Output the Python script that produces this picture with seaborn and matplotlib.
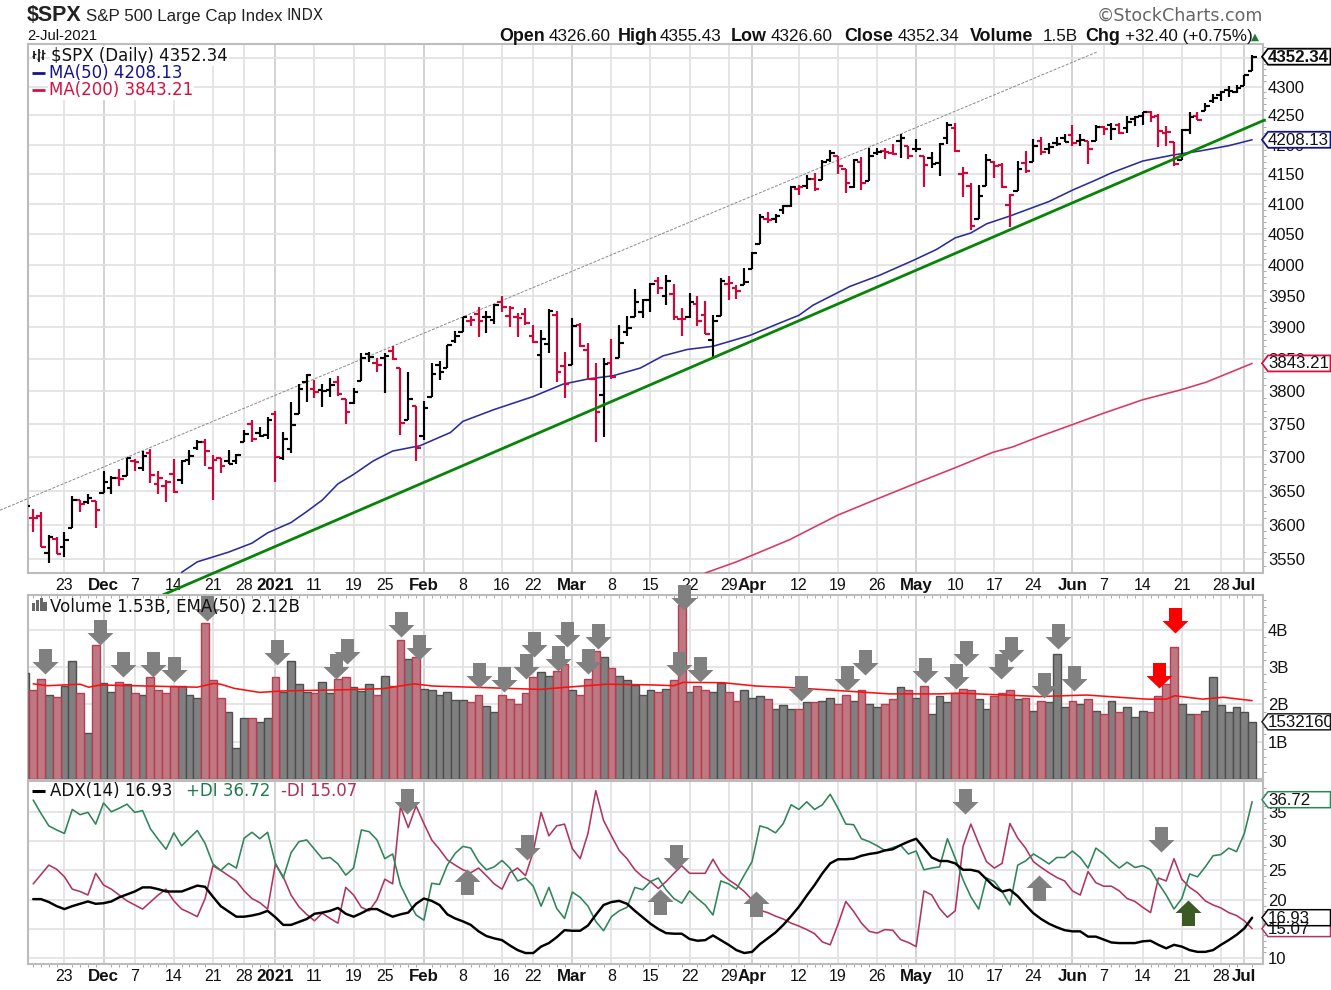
import numpy as np
import pandas as pd
import matplotlib
matplotlib.use("Agg")
import matplotlib.pyplot as plt
import seaborn as sns
from matplotlib.patches import Polygon, Rectangle
from matplotlib.path import Path
from matplotlib.lines import Line2D
from matplotlib.transforms import IdentityTransform
from matplotlib.ticker import NullFormatter

# ---------- data: first entry of the OHLC + volume lists is the clipped bar left of the frame ----------
opens = [3600.16,3610.31,3612.09,3559.41,3579.31,3566.82,3594.52,3635.50,3633.50,3634.18,3645.87,3653.78,3668.28,3670.94,3694.73,3683.05,3705.98,3659.13,3656.08,3675.27,3666.41,3696.25,3713.65,3722.39,3684.28,3698.08,3693.42,3694.03,3723.03,3750.01,3736.19,3733.27,3764.61,3698.02,3712.20,3764.71,3815.05,3803.14,3801.62,3802.23,3814.98,3788.73,3781.88,3816.22,3857.46,3844.24,3851.68,3862.96,3836.83,3755.75,3778.05,3731.17,3791.84,3840.27,3836.66,3878.30,3892.59,3910.49,3920.78,3916.40,3911.65,3939.61,3918.50,3915.86,3921.16,3885.55,3857.07,3873.71,3919.88,3839.66,3840.94,3903.64,3863.99,3818.53,3793.58,3844.39,3851.93,3891.99,3915.54,3924.52,3942.96,3973.59,3949.57,3953.50,3913.14,3916.48,3937.60,3919.93,3879.34,3917.12,3969.31,3963.34,3967.25,3992.78,4034.44,4075.57,4074.29,4089.95,4096.11,4124.71,4130.10,4141.58,4139.76,4174.14,4179.80,4159.18,4128.42,4170.46,4138.78,4185.03,4188.25,4185.14,4206.14,4198.10,4191.98,4179.80,4177.06,4169.14,4210.34,4228.29,4150.34,4130.55,4074.99,4129.58,4169.92,4165.94,4098.45,4121.97,4168.61,4170.16,4205.94,4191.59,4201.94,4210.77,4216.52,4206.82,4206.05,4206.05,4229.34,4233.81,4232.99,4228.56,4242.90,4248.31,4255.28,4248.87,4220.37,4204.78,4173.40,4224.61,4249.27,4256.97,4274.45,4284.90,4293.21,4290.65,4300.73,4326.60]
highs = [3628.51,3623.11,3619.09,3585.22,3581.23,3589.81,3642.31,3635.50,3644.31,3634.18,3678.45,3670.96,3682.73,3699.20,3697.41,3708.45,3712.39,3678.49,3665.91,3697.61,3695.29,3711.27,3725.12,3726.70,3702.90,3698.26,3711.24,3703.82,3740.51,3756.12,3744.63,3760.20,3769.99,3737.83,3783.04,3811.55,3826.69,3817.86,3810.78,3820.96,3823.60,3788.73,3804.53,3859.75,3861.45,3852.31,3859.23,3870.90,3836.83,3830.50,3778.05,3784.32,3843.09,3847.51,3872.42,3894.56,3915.77,3918.35,3931.50,3925.99,3937.23,3950.43,3933.61,3921.98,3930.41,3902.92,3895.98,3928.65,3925.02,3861.08,3914.50,3906.41,3874.47,3843.67,3851.69,3881.06,3903.76,3917.35,3960.27,3944.99,3970.08,3981.04,3983.87,3969.62,3930.12,3955.31,3949.13,3942.08,3919.54,3978.19,3981.83,3968.01,3994.41,4020.63,4083.42,4086.23,4083.13,4098.19,4129.48,4131.76,4148.00,4151.69,4173.49,4191.31,4180.81,4159.18,4175.02,4179.57,4194.17,4194.19,4193.35,4201.53,4218.78,4198.10,4209.39,4179.80,4187.72,4202.70,4238.04,4236.39,4162.04,4134.73,4131.58,4183.13,4171.92,4169.15,4116.93,4172.80,4188.72,4209.52,4213.42,4202.61,4213.38,4218.36,4234.12,4217.37,4206.05,4233.45,4232.34,4236.74,4237.09,4249.74,4248.38,4255.59,4257.16,4251.89,4232.29,4204.78,4226.24,4255.84,4256.60,4271.28,4286.12,4292.14,4300.52,4302.43,4320.66,4355.43]
lows = [3600.16,3588.68,3567.33,3543.84,3556.85,3552.77,3594.52,3617.76,3629.65,3594.39,3645.87,3644.84,3657.17,3670.94,3678.88,3678.83,3660.54,3645.18,3633.40,3645.84,3659.62,3688.57,3710.87,3685.84,3636.48,3676.16,3689.28,3689.32,3723.03,3723.31,3730.21,3726.88,3662.71,3695.07,3705.34,3764.71,3783.60,3789.02,3776.51,3791.50,3792.86,3749.62,3780.37,3816.22,3845.05,3830.41,3797.16,3847.78,3732.48,3755.75,3694.12,3725.62,3791.84,3816.68,3836.66,3874.93,3892.59,3902.64,3884.94,3890.39,3905.78,3923.85,3900.43,3885.03,3903.07,3874.71,3805.59,3859.60,3814.04,3789.54,3840.94,3868.57,3818.86,3723.34,3730.19,3819.25,3851.93,3885.73,3915.54,3915.21,3923.54,3953.44,3935.74,3910.86,3886.75,3914.16,3901.57,3889.07,3853.50,3917.12,3943.25,3944.35,3966.98,3992.78,4034.44,4068.14,4068.31,4082.54,4095.51,4114.82,4124.43,4120.87,4139.76,4170.75,4150.47,4118.38,4126.01,4123.69,4138.78,4182.36,4176.22,4181.78,4176.81,4174.85,4188.03,4128.59,4160.94,4147.33,4201.64,4188.13,4111.53,4056.88,4074.99,4129.58,4142.69,4125.99,4061.41,4121.97,4151.72,4170.16,4182.52,4184.11,4197.78,4203.57,4197.59,4198.27,4167.34,4206.05,4215.66,4208.41,4218.74,4220.34,4232.25,4234.07,4238.35,4195.99,4196.89,4164.40,4173.40,4217.27,4241.43,4256.97,4271.16,4274.67,4282.53,4287.96,4300.73,4326.60]
closes = [3626.91,3609.53,3567.79,3581.87,3557.54,3577.59,3635.41,3629.65,3638.35,3621.63,3662.45,3669.01,3666.72,3699.12,3691.96,3702.25,3672.82,3668.10,3663.46,3647.49,3694.62,3701.17,3722.48,3709.41,3694.92,3687.26,3690.01,3703.06,3735.36,3727.04,3732.04,3756.07,3700.65,3726.86,3748.14,3803.79,3824.68,3799.61,3801.19,3809.84,3795.54,3768.25,3798.91,3851.85,3853.07,3841.47,3855.36,3849.62,3750.77,3787.38,3714.24,3773.86,3826.31,3830.17,3871.74,3886.83,3915.59,3911.23,3909.88,3916.38,3934.83,3932.59,3931.33,3913.97,3906.71,3876.50,3881.37,3925.43,3829.34,3811.15,3901.82,3870.29,3819.72,3768.47,3841.94,3821.35,3875.44,3898.81,3939.34,3943.34,3968.94,3962.71,3974.12,3915.46,3913.10,3940.59,3910.52,3889.14,3909.52,3974.54,3971.09,3958.55,3972.89,4019.87,4077.91,4073.94,4079.95,4097.17,4128.80,4127.99,4141.59,4124.66,4170.42,4185.47,4163.26,4134.94,4173.42,4134.98,4180.17,4187.62,4186.72,4183.18,4211.47,4181.17,4192.66,4164.66,4167.59,4201.62,4232.60,4188.43,4152.10,4063.04,4112.50,4173.85,4163.29,4127.83,4115.68,4159.12,4155.86,4197.05,4188.13,4195.99,4200.88,4204.11,4202.04,4208.12,4192.85,4229.89,4226.52,4227.26,4219.55,4239.18,4247.44,4255.15,4246.59,4223.70,4221.86,4166.45,4224.79,4246.44,4241.84,4266.49,4280.70,4290.61,4291.80,4297.50,4319.94,4352.34]

volume_b = [2.85,2.39,2.68,2.25,2.21,2.48,3.15,2.30,1.24,3.59,2.58,2.34,2.59,2.54,2.30,2.25,2.72,2.39,2.30,2.50,2.50,2.25,2.16,4.19,2.64,2.18,1.80,0.82,1.63,1.63,1.54,1.63,2.72,2.34,3.15,2.55,2.34,2.30,2.59,2.30,2.68,2.72,2.47,2.37,2.55,2.25,2.76,2.50,3.73,3.22,3.26,2.42,2.39,2.25,2.34,2.12,2.12,2.05,2.25,1.96,1.79,2.25,2.14,2.01,2.30,2.72,2.88,2.76,2.90,3.08,2.39,2.25,2.68,3.43,3.26,2.97,2.76,2.64,2.52,2.25,2.39,2.34,2.42,2.64,4.65,2.34,2.48,2.39,2.34,2.58,2.34,2.09,2.39,2.18,2.23,2.14,1.88,1.97,1.88,1.88,2.05,2.05,2.09,2.18,2.01,2.25,2.09,2.39,2.00,1.92,2.01,2.14,2.47,2.39,2.16,2.50,1.74,2.23,2.05,2.30,2.42,2.39,2.14,1.88,2.23,2.30,2.39,2.14,2.18,1.83,2.09,2.05,3.35,1.92,2.09,2.00,2.14,1.83,1.74,2.09,1.80,1.92,1.65,1.83,1.80,2.23,2.55,3.55,2.00,1.74,1.74,1.83,2.72,1.97,1.80,1.92,1.80,1.53]

ma50_i = [19,21,23,25,28,30,33,35,37,39,41,43.5,46,49.5,53.4,55,59,64,67.8,71,74.2,77.7,80.6,83.7,87,91.7,95.6,98,99.8,104.5,108.3,112.6,115.6,118,120,122,125,130,133,136,138,142,145.8,149.3,153,156]
ma50_v = [3531,3546,3553,3560,3573,3588,3603,3619,3636,3660,3674,3694,3709,3717,3737,3754,3772,3792,3811,3819,3824,3836,3855,3865,3870,3887,3907,3919,3935,3965,3983,4007,4025,4044,4052,4067,4080,4104,4123,4140,4152,4172,4182,4189,4198,4208.13]
ma200_i = [86,90,96.8,103,108.3,113,118,122.8,125.3,128.8,133,136.9,142,146.8,150.1,156]
ma200_v = [3530,3546,3578,3614,3639,3661,3684,3707,3715,3731,3749,3766,3787,3802,3814,3843.21]

ema_i = [0,1.8,6,7.1,8.6,21,23.1,24,25.7,29,32,39.7,44.8,48.7,51.2,57.6,64.9,68.3,73.4,79.4,82,83.2,88.3,92.6,96,103,109.6,116,118.6,128.8,134.8,142.5,145,146.1,149.7,152.3,156]
ema_v = [2.55,2.50,2.54,2.46,2.52,2.46,2.56,2.54,2.43,2.32,2.36,2.39,2.42,2.55,2.49,2.45,2.40,2.46,2.54,2.52,2.50,2.59,2.58,2.49,2.46,2.37,2.28,2.28,2.30,2.21,2.25,2.14,2.14,2.23,2.14,2.19,2.10]

plus_di = [37.0,34.7,32.6,31.9,31.3,35.4,34.5,34.9,32.9,36.5,35.0,35.6,36.3,34.9,35.2,32.1,30.3,28.6,31.4,29.2,30.5,31.8,29.6,26.1,25.0,26.2,25.4,30.5,31.5,30.4,31.5,26.2,23.7,28.0,29.9,30.2,28.6,27.0,27.2,26.1,24.2,25.4,31.9,31.6,30.2,27.0,27.8,22.5,19.8,17.4,16.5,22.8,22.6,25.9,27.9,29.1,28.8,26.5,25.1,25.6,26.7,25.4,23.2,23.7,22.3,18.9,22.1,18.5,16.8,21.3,20.4,18.9,16.3,14.7,17.1,18.1,18.7,22.1,21.7,23.1,23.7,21.7,20.2,19.4,21.5,20.2,19.1,17.4,23.2,22.7,21.8,24.2,26.5,32.6,32.2,31.4,33.0,36.2,35.4,36.7,35.4,36.2,38.0,35.6,32.9,32.8,30.4,29.9,29.2,28.4,28.9,29.3,27.8,28.3,25.1,25.4,25.6,30.4,27.1,23.4,20.5,18.4,23.7,23.1,21.4,19.1,25.9,26.6,27.8,27.0,26.1,27.2,27.2,28.3,27.2,25.4,28.8,27.8,26.5,25.4,26.4,25.5,25.8,25.1,22.8,20.8,18.4,20.2,24.4,23.9,25.6,27.5,27.7,28.8,28.2,31.3,36.72]
minus_di = [22.7,24.3,25.9,25.2,23.9,21.8,21.4,20.8,24.5,22.5,21.8,20.8,19.8,19.1,18.4,19.6,20.8,21.8,19.8,18.4,17.8,17.1,20.2,25.8,25.0,24.1,23.2,21.5,20.2,19.5,18.4,26.1,23.9,20.8,18.8,17.5,16.4,17.7,16.8,16.0,22.1,20.8,18.7,18.1,20.0,23.5,22.7,35.9,32.3,36.0,33.0,30.2,28.6,26.8,25.9,25.1,24.6,25.4,24.1,22.7,21.8,24.6,25.4,24.1,28.2,34.9,30.9,32.6,32.9,28.7,27.0,31.3,38.6,33.5,30.9,28.4,27.0,25.1,23.9,23.1,21.9,23.1,24.5,25.8,24.5,24.5,24.5,26.9,24.6,23.4,22.5,21.4,20.0,18.2,17.8,17.2,16.7,16.0,15.5,14.9,14.2,12.8,12.3,15.8,19.7,18.0,16.0,14.6,14.3,14.9,14.8,13.2,12.7,12.0,21.5,20.8,18.5,17.0,18.1,29.1,32.9,29.6,26.5,25.4,26.2,33.0,30.5,28.8,26.5,25.5,24.6,23.8,23.2,21.5,20.8,24.8,22.9,22.3,22.3,21.5,20.2,19.7,18.7,17.8,23.7,23.2,27.0,23.5,22.1,21.2,19.8,19.1,18.6,17.8,17.3,16.4,15.07]
adx = [20.1,20.1,19.6,18.9,18.4,18.9,19.3,19.7,19.3,19.4,19.7,20.4,20.9,21.4,22.1,22.1,21.8,21.4,21.4,21.4,21.9,22.4,22.2,20.5,18.9,18.0,17.1,17.1,17.3,17.6,18.1,17.0,15.7,15.7,16.2,16.7,17.6,17.8,18.1,18.6,17.6,17.1,17.7,18.4,18.4,17.7,17.1,17.5,17.8,19.3,20.2,19.8,19.1,17.5,16.8,16.3,15.7,14.6,13.8,13.4,13.1,12.2,11.4,10.9,10.9,12.0,12.6,13.6,14.8,14.7,14.7,15.6,17.4,19.1,19.6,19.8,19.3,18.1,17.0,15.9,15.0,14.3,14.2,14.2,13.3,13.0,13.1,13.9,13.1,12.3,11.4,10.9,11.1,12.4,13.4,14.4,15.7,17.2,18.8,20.7,22.5,24.5,26.2,26.9,26.9,27.0,27.5,27.8,28.0,28.4,28.6,29.3,29.9,30.4,28.8,27.2,26.6,26.6,26.2,25.1,25.1,24.8,23.5,22.2,21.4,21.7,20.6,19.1,17.7,16.7,15.9,15.3,14.8,14.6,14.6,13.7,13.7,13.2,12.7,12.6,12.6,12.6,12.9,13.0,12.3,11.7,12.3,12.0,11.4,11.1,11.1,11.4,12.3,13.1,14.0,15.1,16.93]

tick_pos = [4,9,13,18,23,27,31,36,41,45,50,55,60,64,69,74,79,84,89,92,98,103,108,113,118,123,128,133,137,142,147,152,155]
tick_lab = ["23","Dec","7","14","21","28","2021","11","19","25","Feb","8","16","22","Mar","8","15","22","29","Apr","12","19","26","May","10","17","24","Jun","7","14","21","28","Jul"]
bold_lab = {"Dec","2021","Feb","Mar","Apr","May","Jun","Jul"}

price_ticks = [4350,4300,4250,4200,4150,4100,4050,4000,3950,3900,3850,3800,3750,3700,3650,3600,3550]
price_shown = ["","4300","4250","4200","4150","4100","4050","4000","3950","3900","3850","3800","3750","3700","3650","3600","3550"]
vol_ticks = [1,2,3,4]
vol_labels = ["1B","2B","3B","4B"]
adx_ticks = [10,15,20,25,30,35]

trend_i, trend_v = [15.6,157.6], [3494,4242]
upper_i, upper_v = [-4.25,136.2], [3621,4361]

vol_dn_i = [1.45,8.5,11.5,15.3,18.0,22.25,31.2,38.8,40.2,47.1,49.4,57.1,60.3,63.1,64.1,67.2,68.3,71.05,72.3,82.6,83.3,85.3,98.3,104.2,106.4,114.1,118.1,119.4,123.8,125.2,129.3,131.2,133.2]
vol_dn_v = [2.82,3.59,2.73,2.73,2.60,4.22,3.06,2.68,3.08,3.80,3.19,2.43,2.32,2.67,3.28,2.90,3.55,2.80,3.48,2.73,4.53,2.59,2.09,2.36,2.79,2.56,2.40,3.03,2.67,3.14,2.17,3.48,2.35]
vol_red_i, vol_red_v = [144.1,146.1], [2.43,3.91]
adx_dn_i, adx_dn_v = [47.9,63.2,82.3,119.3,144.4], [34.7,26.8,25.1,34.6,28.2]
adx_up_i, adx_up_v = [55.5,80.2,92.5,128.7], [25.2,21.9,21.5,24.2]
adx_gr_i, adx_gr_v = [147.8], [20.0]

# ---------- style ----------
sns.set_theme(style="white")
plt.rcParams["font.family"] = ["Liberation Sans", "DejaVu Sans"]
W, H = 1331, 990
fig = plt.figure(figsize=(W/100, H/100), dpi=100, facecolor="white")
def rect(y0, y1):
    return [28/W, 1-y1/H, (1263-28)/W, (y1-y0)/H]
ax1 = fig.add_axes(rect(44, 573))
ax2 = fig.add_axes(rect(595, 779))
ax3 = fig.add_axes(rect(781, 964))

idx = np.arange(-1, len(closes)-1)
I0 = np.arange(len(plus_di))
closes_a = np.array(closes)
down = np.r_[False, closes_a[1:] < closes_a[:-1]]
BLK, RED = "#000000", "#d0083a"
GRID, GRID_M = "#e2e2e2", "#cdcdcd"
SPINE = "#bcbcbc"
XL = (-0.665, 157.39)

def style_axis(ax, labels):
    ax.set_xlim(*XL)
    ax.set_axisbelow(True)
    ax.set_xticks(tick_pos, tick_lab if labels else [""]*len(tick_pos))
    ax.grid(True, axis="both", color=GRID, lw=1.25)
    for t, gl in zip(tick_lab, ax.xaxis.get_gridlines()):
        if t in bold_lab:
            gl.set_color(GRID_M)
    for s in ax.spines.values():
        s.set_color(SPINE); s.set_linewidth(1.5); s.set_visible(True)
    ax.set_xlabel(""); ax.set_ylabel("")
    ax.yaxis.tick_right()
    ax.tick_params(axis="x", which="major", length=0, pad=3.5, labelsize=11.4, labelcolor="#111111")
    ax.tick_params(axis="y", which="major", length=0, pad=3.6, labelsize=12, labelcolor="#111111")
    ax.tick_params(axis="y", which="minor", length=2.2, width=0.7, color="#aaaaaa", right=True, left=False)
    if labels:
        for t in ax.get_xticklabels():
            if t.get_text() in bold_lab:
                t.set_fontweight("bold"); t.set_fontsize(12.2)

# ---------- price panel ----------
ax1.set_yscale("log")
sns.lineplot(x=upper_i, y=upper_v, ax=ax1, color="#8a8a8a", lw=0.7, ls=(0, (3, 1.5)), errorbar=None, clip_on=False, zorder=2)
sns.lineplot(x=ma200_i, y=ma200_v, ax=ax1, color="#dc3560", lw=1.15, errorbar=None, zorder=3)
sns.lineplot(x=ma50_i, y=ma50_v, ax=ax1, color="#2b2b9b", lw=1.15, errorbar=None, zorder=3)
sns.lineplot(x=trend_i, y=trend_v, ax=ax1, color="#078407", lw=2.0, errorbar=None, clip_on=False, zorder=6)
colors = [RED if d else BLK for d in down]
ax1.vlines(idx, lows, highs, colors=colors, lw=1.55, zorder=4)
ax1.hlines(opens, idx-0.58, idx, colors=colors, lw=1.55, zorder=4)
ax1.hlines(closes, idx, idx+0.58, colors=colors, lw=1.55, zorder=4)
ax1.set_ylim(3530, 4374.8)
ax1.set_yticks(price_ticks, price_shown)
ax1.set_yticks(np.arange(3540, 4380, 10), minor=True)
ax1.yaxis.set_minor_formatter(NullFormatter())
style_axis(ax1, True)

# ---------- volume panel ----------
vol_df = pd.DataFrame({"i": idx, "v": volume_b, "dir": np.where(down, "down", "up")})
sns.barplot(data=vol_df, x="i", y="v", hue="dir", hue_order=["up", "down"], native_scale=True,
            dodge=False, width=1.0, palette={"up": "#808080", "down": "#c96c78"},
            errorbar=None, legend=False, ax=ax2, zorder=3)
for p in ax2.patches:
    fc = matplotlib.colors.to_hex(p.get_facecolor())
    p.set_edgecolor("#4e4e4e" if fc == "#808080" else "#b83c52")
    p.set_linewidth(1.0)
sns.lineplot(x=ema_i, y=ema_v, ax=ax2, color="#fb1010", lw=1.15, errorbar=None, zorder=4)
ax2.set_ylim(0, 4.93)
ax2.set_yticks(vol_ticks, vol_labels)
ax2.set_yticks(np.arange(0.2, 4.9, 0.2), minor=True)
style_axis(ax2, False)
ax2.set_xticks(I0, minor=True)
ax2.tick_params(axis="x", which="minor", top=True, bottom=False, direction="in", length=2, width=0.7, color="#aaaaaa")

# ---------- ADX panel ----------
sns.lineplot(x=I0, y=minus_di, ax=ax3, color="#ae3560", lw=1.15, errorbar=None, zorder=3)
sns.lineplot(x=I0, y=plus_di, ax=ax3, color="#2f8459", lw=1.15, errorbar=None, zorder=3)
sns.lineplot(x=I0, y=adx, ax=ax3, color="#000000", lw=1.75, errorbar=None, zorder=4)
ax3.set_ylim(9.03, 40.25)
ax3.set_yticks(adx_ticks, [str(t) for t in adx_ticks])
ax3.set_yticks(np.arange(10, 40, 1), minor=True)
style_axis(ax3, True)
ax3.set_xticks(I0, minor=True)
ax3.tick_params(axis="x", which="minor", bottom=True, direction="out", length=2, width=0.7, color="#aaaaaa")

# ---------- signal arrows (tip sits on the data point) ----------
dn = Path([(0,0),(13,12.5),(6.5,12.5),(6.5,25.5),(-6.5,25.5),(-6.5,12.5),(-13,12.5),(0,0)], closed=True)
up = Path([(0,0),(13,-12.5),(6.5,-12.5),(6.5,-25.5),(-6.5,-25.5),(-6.5,-12.5),(-13,-12.5),(0,0)], closed=True)
def arrows(ax, xs, ys, marker, color):
    ax.plot(xs, ys, ls="none", marker=marker, ms=51*0.72, mfc=color, mew=0, clip_on=False, zorder=8)
arrows(ax2, vol_dn_i, vol_dn_v, dn, "#808080")
arrows(ax2, vol_red_i, vol_red_v, dn, "#fb0000")
arrows(ax3, adx_dn_i, adx_dn_v, dn, "#808080")
arrows(ax3, adx_up_i, adx_up_v, up, "#808080")
arrows(ax3, adx_gr_i, adx_gr_v, up, "#3c5a24")

# ---------- text helpers (pixel placement, y measured from the top) ----------
def T(x, y, s, size=12, weight="normal", color="#111111", fam="Liberation Sans", ha="left", **kw):
    return fig.text(x/W, 1-y/H, s, fontsize=size, fontweight=weight, color=color, family=fam, ha=ha, va="baseline", zorder=7, **kw)
def L(x0, y0, x1, y1, color, lw):
    fig.add_artist(Line2D([x0/W, x1/W], [1-y0/H, 1-y1/H], color=color, lw=lw, solid_capstyle="butt", zorder=7))

T(27, 21, "$SPX", 15.5, "bold", "#222222")
T(86, 21, "S&P 500 Large Cap Index", 12.2, color="#222222")
T(286, 20.5, "INDX", 10.6, color="#222222", fam="DejaVu Sans")
T(27, 40, "2-Jul-2021", 10.6)
for x, s in [(499,"Open"),(618,"High"),(731,"Low"),(844,"Close"),(970,"Volume"),(1085,"Chg")]:
    T(x, 41, s, 12.9, "bold")
for x, s in [(549,"4326.60"),(660,"4355.43"),(771,"4326.60"),(898,"4352.34"),(1043,"1.5B"),(1125,"+32.40 (+0.75%)")]:
    T(x, 41, s, 12.3)
T(1251, 40, "▲", 7.5, color="#1c7a3a", fam="DejaVu Sans")
T(1097, 21, "©StockCharts.com", 12.6, color="#666666", fam="DejaVu Sans")

wb = dict(fc="white", ec="none", pad=0.8)
T(51, 61, "$SPX (Daily) 4352.34", 12, fam="DejaVu Sans", bbox=wb)
T(49, 78, "MA(50) 4208.13", 12, color="#14148c", fam="DejaVu Sans", bbox=wb)
T(49, 95, "MA(200) 3843.21", 12, color="#d8103f", fam="DejaVu Sans", bbox=wb)
L(32, 72.5, 45, 72.5, "#14148c", 2.0)
L(32, 90, 45, 90, "#d8103f", 2.0)
# small OHLC glyph
for x, a, b in [(34, 51, 59), (38.5, 49, 62), (43, 50, 60)]:
    L(x, a, x, b, "#111111", 1.2)
    L(x-1.6, b-3, x, b-3, "#111111", 1.0)
    L(x, a+3, x+1.6, a+3, "#111111", 1.0)
T(50, 612, "Volume 1.53B, EMA(50) 2.12B", 12, fam="DejaVu Sans")
# small volume glyph
for x, a in [(33.5, 603), (37.5, 600), (41.5, 598), (45, 602)]:
    fig.add_artist(Rectangle(((x-1.7)/W, 1-611/H), 3.4/W, (611-a)/H, transform=fig.transFigure, fc="#666666", ec="none", zorder=7))
L(32, 790.5, 45, 790.5, "#000000", 2.2)
T(50, 796, "ADX(14) 16.93", 12, fam="DejaVu Sans")
T(186, 796, "+DI 36.72", 12, color="#1f7a4d", fam="DejaVu Sans")
T(281, 796, "-DI 15.07", 12, color="#b03055", fam="DejaVu Sans")

# ---------- value tags on the right axis ----------
def tag(ax, value, text, edge, weight="normal", dy=0, lw=1.1):
    yd = ax.transData.transform((0, value))[1] + dy
    x0, x1, h = 1262, 1330.5, 8
    fig.add_artist(Polygon([(x0, yd), (x0+6, yd+h), (x1, yd+h), (x1, yd-h), (x0+6, yd-h)], closed=True,
                           transform=IdentityTransform(), fc="white", ec=edge, lw=lw, zorder=9))
    fig.text(1268, yd-0.5, text, transform=IdentityTransform(), fontsize=12.2, fontweight=weight,
             color="#111111", family="Liberation Sans", ha="left", va="center", zorder=10)
tag(ax1, 4352.34, "4352.34", "#000000", "bold", lw=1.3)
tag(ax1, 4208.13, "4208.13", "#14148c", lw=1.3)
tag(ax1, 3843.21, "3843.21", "#d8103f", lw=1.3)
tag(ax2, 1.532, "1532160", "#222222")
tag(ax3, 36.72, "36.72", "#2f8459", dy=2)
tag(ax3, 15.07, "15.07", "#ae3560")
tag(ax3, 16.93, "16.93", "#000000")

fig.savefig("out.png", dpi=100, facecolor="white")
